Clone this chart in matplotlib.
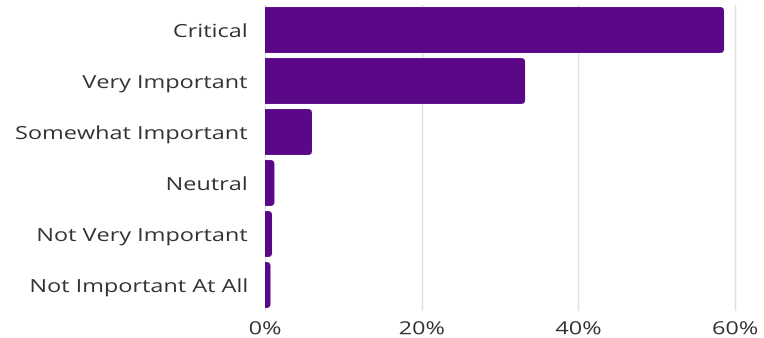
import matplotlib

matplotlib.use("Agg")

import matplotlib.pyplot as plt
from matplotlib.path import Path
from matplotlib.patches import PathPatch
from matplotlib.patheffects import AbstractPathEffect
from matplotlib.transforms import Affine2D
from matplotlib.ticker import FuncFormatter

categories = [
    "Critical",
    "Very Important",
    "Somewhat Important",
    "Neutral",
    "Not Very Important",
    "Not Important At All",
]
shares = [58.6, 33.2, 6.0, 1.2, 0.9, 0.7]
x_ticks = [0, 20, 40, 60]

BAR_COLOR = "#5a0888"
TEXT_COLOR = "#333333"
GRID_COLOR = "#e0e0e0"


class WideText(AbstractPathEffect):
    """Draw text glyphs stretched horizontally about a fixed edge."""

    def __init__(self, factor, anchor="center"):
        super().__init__()
        self.factor = factor
        self.anchor = anchor

    def draw_path(self, renderer, gc, tpath, affine, rgbFace=None):
        ext = tpath.get_extents(affine)
        xa = ext.x1 if self.anchor == "right" else (ext.x0 + ext.x1) / 2
        stretch = Affine2D().translate(-xa, 0).scale(self.factor, 1).translate(xa, 0)
        renderer.draw_path(gc, tpath, affine + stretch, rgbFace)


plt.rcParams["font.family"] = ["Open Sans", "DejaVu Sans"]

W, H, DPI = 764, 338, 100
fig = plt.figure(figsize=(W / DPI, H / DPI), dpi=DPI)
ax_left, ax_right = 265 / W, 750.7 / W
ax_bottom, ax_top = (H - 310.5) / H, (H - 4.5) / H
ax = fig.add_axes([ax_left, ax_bottom, ax_right - ax_left, ax_top - ax_bottom])

xmax = 62.0
ax.set_xlim(0, xmax)
ax.set_ylim(len(categories) - 0.5, -0.5)

bars = ax.barh(range(len(categories)), shares, height=0.9, color=BAR_COLOR)

# swap plain rectangles for ones with rounded right-hand corners
px_per_x = (ax_right - ax_left) * W / xmax
px_per_y = (ax_top - ax_bottom) * H / len(categories)
radius_px = 4.0
for bar in bars:
    x0, y0 = bar.get_x(), bar.get_y()
    w, h = bar.get_width(), bar.get_height()
    rx = min(radius_px / px_per_x, w)
    ry = min(radius_px / px_per_y, h / 2)
    x1, y1 = x0 + w, y0 + h
    verts = [
        (x0, y0),
        (x1 - rx, y0),
        (x1, y0), (x1, y0 + ry),
        (x1, y1 - ry),
        (x1, y1), (x1 - rx, y1),
        (x0, y1),
        (x0, y0),
    ]
    codes = [
        Path.MOVETO,
        Path.LINETO,
        Path.CURVE3, Path.CURVE3,
        Path.LINETO,
        Path.CURVE3, Path.CURVE3,
        Path.LINETO,
        Path.CLOSEPOLY,
    ]
    ax.add_patch(PathPatch(Path(verts, codes), facecolor=BAR_COLOR,
                           edgecolor="none", zorder=3))
    bar.set_visible(False)

ax.set_yticks(range(len(categories)))
ax.set_yticklabels(categories)
ax.set_xticks(x_ticks)
ax.xaxis.set_major_formatter(FuncFormatter(lambda v, _: f"{v:.0f}%"))

ax.tick_params(axis="y", length=0, pad=13, labelsize=13, labelcolor=TEXT_COLOR)
ax.tick_params(axis="x", length=0, pad=7, labelsize=13, labelcolor=TEXT_COLOR)
for lab in ax.get_yticklabels():
    lab.set_path_effects([WideText(1.3, anchor="right")])
for lab in ax.get_xticklabels():
    lab.set_path_effects([WideText(1.3, anchor="center")])

ax.grid(axis="x", color=GRID_COLOR, lw=1)
ax.set_axisbelow(True)
for side in ax.spines.values():
    side.set_visible(False)

fig.savefig("out.png", dpi=DPI)
plt.close(fig)
